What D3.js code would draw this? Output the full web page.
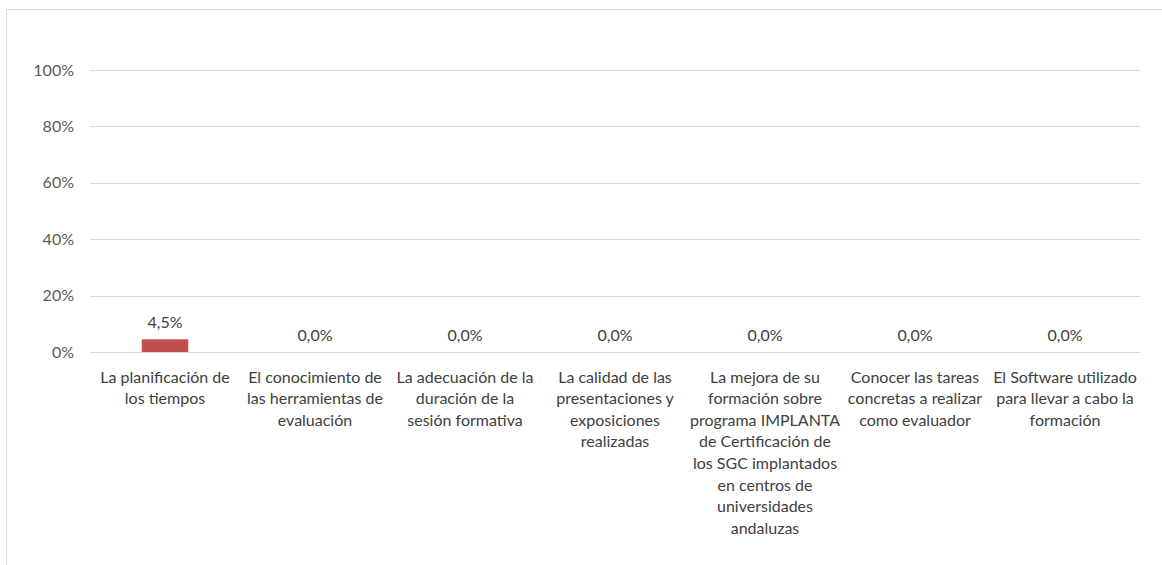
<!DOCTYPE html>
<html>
<head>
<meta charset="utf-8">
<script src="https://cdn.jsdelivr.net/npm/d3@7"></script>
<style>
  html, body { margin: 0; padding: 0; background: #fff; }
  svg { display: block; font-family: "Source Sans Pro", Lato, "Open Sans", sans-serif; }
</style>
</head>
<body>
<div id="chart"></div>
<script>
// Chart data
const categories = [
  ['La planificación de', 'los tiempos'],
  ['El conocimiento de', 'las herramientas de', 'evaluación'],
  ['La adecuación de la', 'duración de la', 'sesión formativa'],
  ['La calidad de las', 'presentaciones y', 'exposiciones', 'realizadas'],
  ['La mejora de su', 'formación sobre', 'programa IMPLANTA', 'de Certificación de', 'los SGC implantados', 'en centros de', 'universidades', 'andaluzas'],
  ['Conocer las tareas', 'concretas a realizar', 'como evaluador'],
  ['El Software utilizado', 'para llevar a cabo la', 'formación']
];
const values = [4.5, 0, 0, 0, 0, 0, 0];
const yTicks = [0, 20, 40, 60, 80, 100];

const W = 1162, H = 565;
const margin = { top: 70, right: 22, bottom: 213, left: 90 };
const width = W - margin.left - margin.right;
const height = H - margin.top - margin.bottom;

const svg = d3.select('#chart').append('svg')
  .attr('width', W).attr('height', H);

// chart border
svg.append('rect')
  .attr('x', 6.5).attr('y', 9.5)
  .attr('width', W + 10).attr('height', H + 10)
  .attr('fill', 'none')
  .attr('stroke', '#d9d9d9');

const g = svg.append('g').attr('transform', `translate(${margin.left},${margin.top})`);

const x = d3.scaleBand()
  .domain(d3.range(categories.length))
  .range([0, width])
  .paddingInner(0.69).paddingOuter(0.345);

const xc = d3.scaleBand().domain(d3.range(categories.length)).range([0, width]);

const y = d3.scaleLinear().domain([0, 100]).range([height, 0]);

// gridlines
g.selectAll('.grid').data(yTicks)
  .join('line')
  .attr('x1', 0).attr('x2', width)
  .attr('y1', d => Math.round(y(d)) + 0.5).attr('y2', d => Math.round(y(d)) + 0.5)
  .attr('stroke', '#d9d9d9').attr('stroke-width', 1);

// y tick labels
g.selectAll('.ytick').data(yTicks)
  .join('text')
  .attr('x', -16)
  .attr('y', d => y(d) + 5.5)
  .attr('text-anchor', 'end')
  .attr('fill', '#595959')
  .attr('font-size', '16px')
  .text(d => d + '%');

// bars
g.selectAll('.bar').data(values)
  .join('rect')
  .attr('x', (d, i) => x(i))
  .attr('width', x.bandwidth())
  .attr('y', d => y(d))
  .attr('height', d => height - y(d))
  .attr('fill', '#c0504d');

// data labels
g.selectAll('.dlabel').data(values)
  .join('text')
  .attr('x', (d, i) => xc(i) + xc.bandwidth() / 2)
  .attr('y', d => y(d) - 11.5)
  .attr('text-anchor', 'middle')
  .attr('fill', '#404040')
  .attr('font-size', '16px')
  .text(d => d.toFixed(1).replace('.', ',') + '%');

// category labels
const cat = g.selectAll('.cat').data(categories)
  .join('text')
  .attr('text-anchor', 'middle')
  .attr('fill', '#404040')
  .attr('font-size', '16px')
  .attr('transform', (d, i) => `translate(${xc(i) + xc.bandwidth() / 2},${height + 30.5})`);

cat.selectAll('tspan').data(d => d)
  .join('tspan')
  .attr('x', 0)
  .attr('y', (d, i) => i * 21.6)
  .text(d => d);
</script>
</body>
</html>
